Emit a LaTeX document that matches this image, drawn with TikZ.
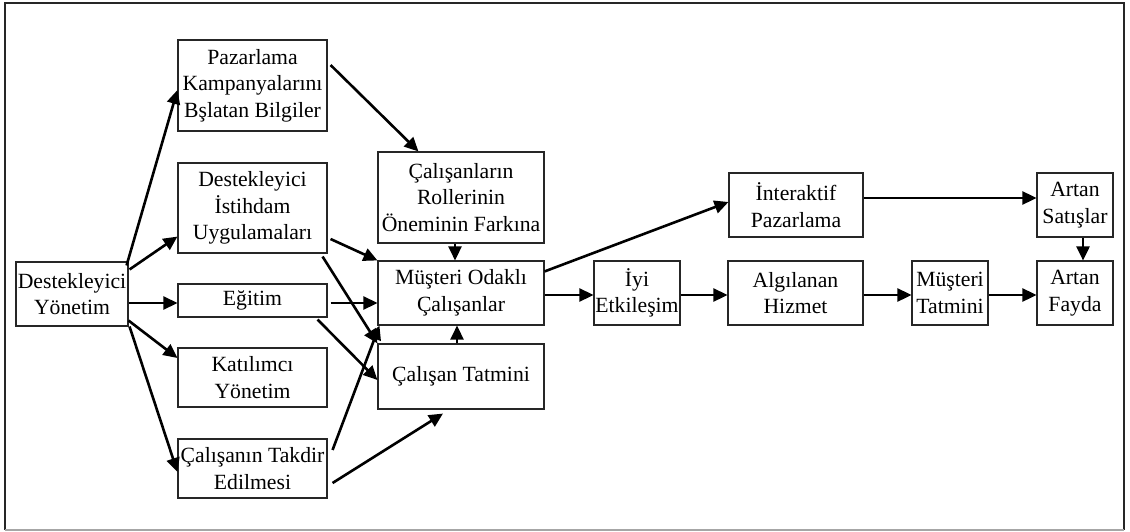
\documentclass[tikz,border=0pt]{standalone}
\usepackage{fontspec}
\setmainfont{Liberation Serif}
\usetikzlibrary{arrows.meta}
\tikzset{
  box/.style={draw=black!85, line width=1.1pt, inner sep=0pt, align=center,
    font=\fontsize{21.7}{26.5}\selectfont},
  link/.style={line width=2.6pt, -{Triangle[length=14pt,width=13pt]}}
}
\begin{document}
\begin{tikzpicture}[x=1pt,y=-1pt]
\useasboundingbox (0,0) rectangle (1130,532);
% frame
\draw[black!85, line width=1.3pt] (5,530) -- (5,3) -- (1124,3) -- (1124,530);
\draw[black!35, line width=1.3pt] (5,530) -- (1124,530);

% left column
\node[box, minimum width=112pt, minimum height=64pt] (yon) at (72,294) {Destekleyici\\Yönetim};
\node[box, minimum width=149pt, minimum height=91pt] (paz) at (252.5,85.5) {Pazarlama\\Kampanyalarını\\Bşlatan Bilgiler};
\node[box, minimum width=149pt, minimum height=90pt] (ist) at (252.5,208) {Destekleyici\\İstihdam\\Uygulamaları};
\node[box, minimum width=149pt, minimum height=33pt] (egi) at (252.5,300.5) {Eğitim};
\node[box, minimum width=149pt, minimum height=59pt] (kat) at (252.5,377.5) {Katılımcı\\Yönetim};
\node[box, minimum width=149pt, minimum height=59pt] (tak) at (252.5,468.5) {Çalışanın Takdir\\Edilmesi};

% middle column
\node[box, minimum width=166pt, minimum height=91pt] (rol) at (461,197.5) {Çalışanların\\Rollerinin\\Öneminin Farkına};
\node[box, minimum width=166pt, minimum height=64pt] (mus) at (461,293) {Müşteri Odaklı\\Çalışanlar};
\node[box, minimum width=166pt, minimum height=65pt] (cta) at (461,376.5) {Çalışan Tatmini};

% right part
\node[box, minimum width=134pt, minimum height=64pt] (int) at (796,205) {İnteraktif\\Pazarlama};
\node[box, minimum width=86pt, minimum height=64pt] (iyi) at (637,293) {İyi\\Etkileşim};
\node[box, minimum width=135pt, minimum height=64pt] (alg) at (795.5,293) {Algılanan\\Hizmet};
\node[box, minimum width=76pt, minimum height=64pt] (mta) at (950,293) {Müşteri\\Tatmini};
\node[box, minimum width=76pt, minimum height=64pt] (sat) at (1075,205) {Artan\\Satışlar};
\node[box, minimum width=76pt, minimum height=64pt] (fay) at (1075,293) {Artan\\Fayda};

% from Destekleyici Yönetim
\draw[link] ([shift={(-2pt,-4pt)}]yon.north east) -- ([yshift=-4.5pt]paz.west);
\draw[link] ([shift={(1pt,-8pt)}]yon.north east) -- ([yshift=17pt]ist.south west);
\draw[link] ([yshift=-9pt]yon.east) -- ([yshift=-2.5pt]egi.west);
\draw[link] ([yshift=6pt]yon.south east) -- ([yshift=19.5pt]kat.west);
\draw[link] ([xshift=1pt]yon.south east) -- ([yshift=-3.5pt]tak.west);

% into the middle column
\draw[link] ([shift={(3pt,20.5pt)}]paz.east) -- ([xshift=41pt]rol.north west);
\draw[link] ([shift={(3pt,-31pt)}]ist.east) -- (mus.north west);
\draw[link] ([shift={(-5pt,-3pt)}]ist.south east) -- (cta.north west);
\draw[link] ([shift={(3pt,-2.5pt)}]egi.east) -- ([yshift=-10pt]mus.west);
\draw[link] ([shift={(-10pt,-2pt)}]egi.south east) -- ([yshift=-3.5pt]cta.west);
\draw[link] ([shift={(5pt,18.5pt)}]tak.east) -- ([xshift=2pt]mus.south west);
\draw[link] ([shift={(5pt,-14.5pt)}]tak.east) -- ([shift={(-18pt,-4pt)}]cta.south);
\draw[link] ([xshift=-6pt]rol.south) -- ([xshift=-6pt]mus.north);
\draw[link] ([xshift=-4pt]cta.north) -- ([xshift=-4pt]mus.south);

% toward the outcomes
\draw[link] ([yshift=-11pt]mus.north east) -- ([yshift=3pt]int.west);
\draw[link] ([yshift=-2pt]mus.east) -- ([yshift=-2pt]iyi.west);
\draw[link] ([yshift=-2pt]iyi.east) -- ([yshift=-2pt]alg.west);
\draw[link] ([yshift=-2pt]alg.east) -- ([yshift=-2pt]mta.west);
\draw[link] ([yshift=-2pt]mta.east) -- ([yshift=-2pt]fay.west);
\draw[link] ([yshift=7pt]int.east) -- ([yshift=7pt]sat.west);
\draw[link] ([xshift=8pt]sat.south) -- ([xshift=8pt]fay.north);
\end{tikzpicture}
\end{document}
